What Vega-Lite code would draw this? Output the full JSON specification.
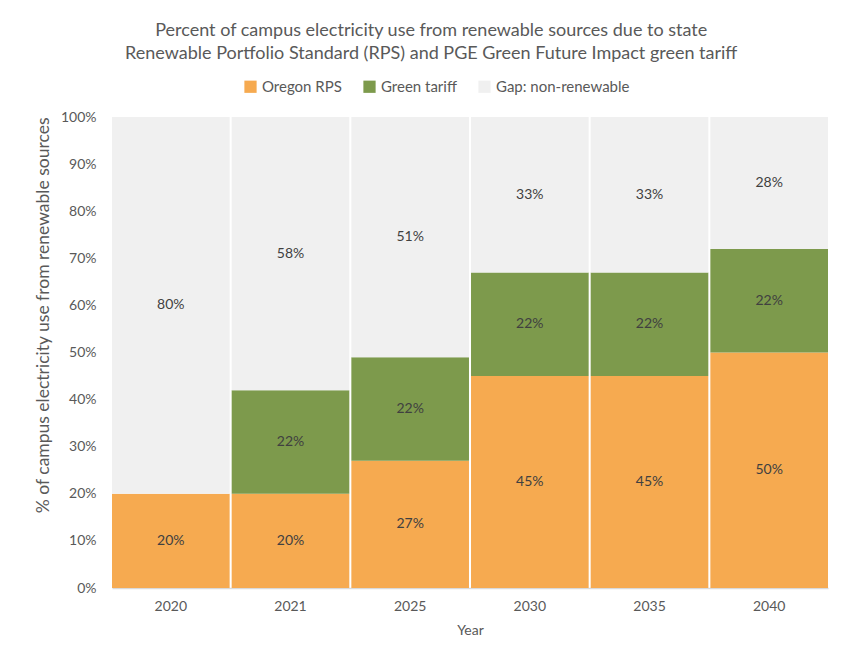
{
  "$schema": "https://vega.github.io/schema/vega-lite/v6.json",
  "autosize": "none",
  "width": 716,
  "height": 471,
  "padding": {"left": 112, "top": 117, "right": 22, "bottom": 64},
  "background": "white",
  "config": {
    "font": "Lato",
    "view": {"stroke": null},
    "axis": {"labelColor": "#595959", "titleColor": "#595959", "labelFont": "Lato", "titleFont": "Lato", "titleFontWeight": "normal"}
  },
  "title": {
    "text": ["Percent of campus electricity  use from renewable sources due to state", "Renewable Portfolio Standard (RPS) and PGE Green Future Impact green tariff"],
    "fontSize": 18,
    "fontWeight": "normal",
    "color": "#595959",
    "anchor": "middle",
    "frame": "bounds",
    "offset": 16,
    "lineHeight": 23
  },
  "data": {
    "values": [
      {"year": "2020", "source": "Oregon RPS", "order": 1, "value": 20},
      {"year": "2020", "source": "Green tariff", "order": 2, "value": 0},
      {"year": "2020", "source": "Gap: non-renewable", "order": 3, "value": 80},
      {"year": "2021", "source": "Oregon RPS", "order": 1, "value": 20},
      {"year": "2021", "source": "Green tariff", "order": 2, "value": 22},
      {"year": "2021", "source": "Gap: non-renewable", "order": 3, "value": 58},
      {"year": "2025", "source": "Oregon RPS", "order": 1, "value": 27},
      {"year": "2025", "source": "Green tariff", "order": 2, "value": 22},
      {"year": "2025", "source": "Gap: non-renewable", "order": 3, "value": 51},
      {"year": "2030", "source": "Oregon RPS", "order": 1, "value": 45},
      {"year": "2030", "source": "Green tariff", "order": 2, "value": 22},
      {"year": "2030", "source": "Gap: non-renewable", "order": 3, "value": 33},
      {"year": "2035", "source": "Oregon RPS", "order": 1, "value": 45},
      {"year": "2035", "source": "Green tariff", "order": 2, "value": 22},
      {"year": "2035", "source": "Gap: non-renewable", "order": 3, "value": 33},
      {"year": "2040", "source": "Oregon RPS", "order": 1, "value": 50},
      {"year": "2040", "source": "Green tariff", "order": 2, "value": 22},
      {"year": "2040", "source": "Gap: non-renewable", "order": 3, "value": 28}
    ]
  },
  "transform": [
    {"stack": "value", "groupby": ["year"], "sort": [{"field": "order", "order": "ascending"}], "as": ["v0", "v1"]},
    {"calculate": "(datum.v0 + datum.v1) / 2", "as": "vmid"},
    {"calculate": "datum.value + '%'", "as": "label"}
  ],
  "encoding": {
    "x": {
      "field": "year", "type": "ordinal",
      "scale": {"paddingInner": 0.017, "paddingOuter": 0},
      "axis": {"title": "Year", "labelAngle": 0, "labelFontSize": 14, "titleFontSize": 14, "labelPadding": 11, "titlePadding": 10, "ticks": false, "domainColor": "#d9d9d9", "domainWidth": 1.5}
    }
  },
  "layer": [
    {
      "mark": {"type": "bar"},
      "encoding": {
        "y": {
          "field": "v0", "type": "quantitative",
          "scale": {"domain": [0, 100]},
          "axis": {"title": "% of campus electricity use from renewable sources", "titleAnchor": "end", "labelExpr": "datum.value + '%'", "values": [0,10,20,30,40,50,60,70,80,90,100], "labelOverlap": false, "grid": false, "domain": false, "ticks": false, "labelFontSize": 14, "titleFontSize": 17.5, "labelPadding": 16, "titlePadding": 8}
        },
        "y2": {"field": "v1"},
        "color": {
          "field": "source", "type": "nominal",
          "sort": ["Oregon RPS", "Green tariff", "Gap: non-renewable"],
          "scale": {"domain": ["Oregon RPS", "Green tariff", "Gap: non-renewable"], "range": ["#F6AA50", "#7D9A4C", "#F0F0F0"]},
          "legend": {"title": null, "orient": "none", "direction": "horizontal", "legendX": 131, "legendY": -38, "symbolType": "square", "symbolSize": 150, "symbolStrokeWidth": 0, "labelFontSize": 15, "labelColor": "#595959", "labelFont": "Lato", "columnPadding": 20, "labelOffset": 4}
        }
      }
    },
    {
      "transform": [{"filter": "datum.value > 0"}],
      "mark": {"type": "text", "fontSize": 14, "color": "#404040", "baseline": "middle"},
      "encoding": {
        "y": {"field": "vmid", "type": "quantitative"},
        "text": {"field": "label", "type": "nominal"},
        "detail": {"field": "source"}
      }
    }
  ]
}
